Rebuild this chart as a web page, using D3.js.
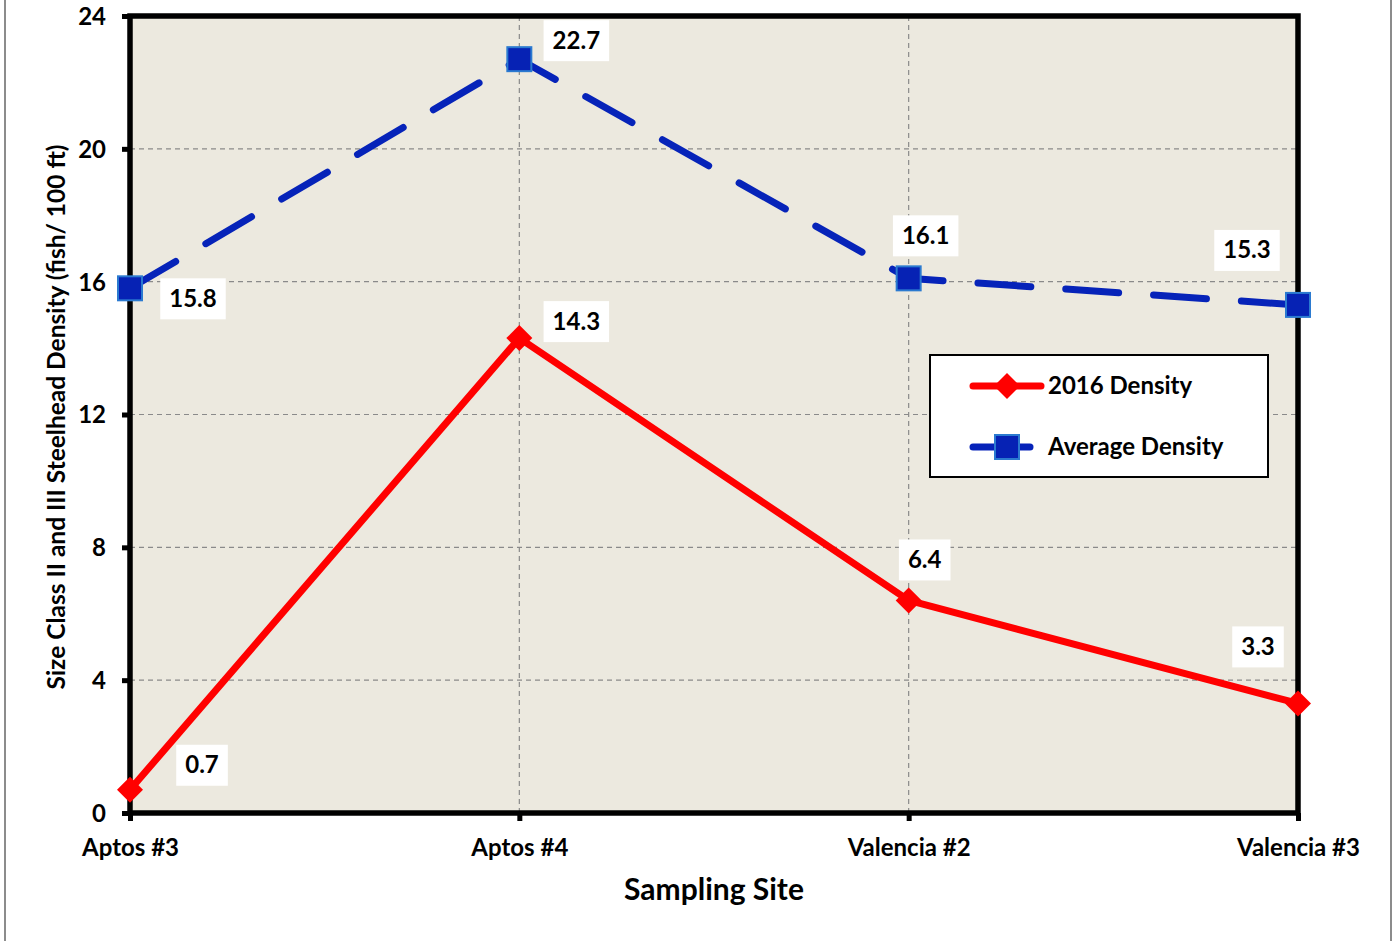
<!DOCTYPE html>
<html>
<head>
<meta charset="utf-8">
<script src="https://cdn.jsdelivr.net/npm/d3@7"></script>
<style>
  html, body { margin: 0; padding: 0; background: #fff; }
  svg text { font-family: Lato, "Open Sans", sans-serif; font-weight: 700; fill: #000; }
</style>
</head>
<body>
<svg id="chart" width="1395" height="941"></svg>
<script>
// Sampling sites and densities (fish / 100 ft)
const sites = ["Aptos #3", "Aptos #4", "Valencia #2", "Valencia #3"];
const density2016 = [0.7, 14.3, 6.4, 3.3];
const densityAvg = [15.8, 22.7, 16.1, 15.3];
const yTicks = [0, 4, 8, 12, 16, 20, 24];
const seriesNames = ["2016 Density", "Average Density"];

// Label offsets (px) of each value box relative to its point
const offs2016 = [[72, -25], [57, -17], [16, -41], [-40, -57]];
const offsAvg = [[63, 10], [57, -19], [17, -43], [-51, -55]];

const svg = d3.select("#chart");
const W = 1395, H = 941;
const plotL = 130, plotR = 1298, plotT = 16, plotB = 813;
const fs = "24px";

// Outer frame lines
svg.append("line").attr("x1", 5).attr("x2", 5).attr("y1", 0).attr("y2", H)
  .attr("stroke", "#8c8c8c").attr("stroke-width", 2);
svg.append("line").attr("x1", 1391).attr("x2", 1391).attr("y1", 0).attr("y2", H)
  .attr("stroke", "#8c8c8c").attr("stroke-width", 2);

const x = d3.scalePoint().domain(sites).range([plotL, plotR]);
const y = d3.scaleLinear().domain([0, 24]).range([plotB, plotT]);

// Plot background
svg.append("rect").attr("x", plotL).attr("y", plotT)
  .attr("width", plotR - plotL).attr("height", plotB - plotT)
  .attr("fill", "#ECE9DF");

// Gridlines
const grid = svg.append("g");
grid.selectAll("line.h").data(yTicks.filter(t => t > 0 && t < 24)).join("line")
  .attr("x1", plotL).attr("x2", plotR)
  .attr("y1", d => y(d)).attr("y2", d => y(d))
  .attr("stroke", "#8a8a8a").attr("stroke-width", 1.2).attr("stroke-dasharray", "5,4");
grid.selectAll("line.v").data(sites.slice(1, -1)).join("line")
  .attr("x1", d => x(d)).attr("x2", d => x(d))
  .attr("y1", plotT).attr("y2", plotB)
  .attr("stroke", "#8a8a8a").attr("stroke-width", 1.2).attr("stroke-dasharray", "5,4");

// Axes
const yAxis = d3.axisLeft(y).tickValues(yTicks).tickSize(8).tickPadding(16);
const gy = svg.append("g").attr("transform", `translate(${plotL},0)`).call(yAxis);
gy.select(".domain").remove();
gy.selectAll(".tick line").attr("stroke", "#000").attr("stroke-width", 5);
gy.selectAll(".tick text").style("font-size", fs).attr("dy", "0.35em");

const xAxis = d3.axisBottom(x).tickSize(8).tickPadding(18);
const gx = svg.append("g").attr("transform", `translate(0,${plotB})`).call(xAxis);
gx.select(".domain").remove();
gx.selectAll(".tick line").attr("stroke", "#000").attr("stroke-width", 5);
gx.selectAll(".tick text").style("font-size", fs);

// Plot frame
svg.append("rect").attr("x", plotL).attr("y", plotT)
  .attr("width", plotR - plotL).attr("height", plotB - plotT)
  .attr("fill", "none").attr("stroke", "#000").attr("stroke-width", 5.5);

// Axis titles
svg.append("text").attr("x", 714).attr("y", 900).attr("text-anchor", "middle")
  .style("font-size", "30px").text("Sampling Site");
svg.append("text").attr("transform", "translate(65,417) rotate(-90)")
  .attr("text-anchor", "middle").style("font-size", "24.5px")
  .text("Size Class II and III Steelhead Density (fish/ 100 ft)");

const line = d3.line().x((d, i) => x(sites[i])).y(d => y(d));

// Average density: dashed blue
svg.append("path").datum(densityAvg).attr("d", line)
  .attr("fill", "none").attr("stroke", "#0623B9").attr("stroke-width", 7)
  .attr("stroke-linecap", "round").attr("stroke-dasharray", "53,35");

// 2016 density: solid red
svg.append("path").datum(density2016).attr("d", line)
  .attr("fill", "none").attr("stroke", "#FF0000").attr("stroke-width", 7)
  .attr("stroke-linejoin", "round");

// Markers
function square(g, cx, cy) {
  g.append("rect").attr("x", cx - 12).attr("y", cy - 12).attr("width", 24).attr("height", 24)
    .attr("fill", "#0622B4").attr("stroke", "#2B7AD0").attr("stroke-width", 2);
}
function diamond(g, cx, cy) {
  const r = 13;
  g.append("path").attr("d", `M${cx},${cy - r}L${cx + r},${cy}L${cx},${cy + r}L${cx - r},${cy}Z`)
    .attr("fill", "#FF0000");
}
const marks = svg.append("g");
densityAvg.forEach((v, i) => square(marks, x(sites[i]), y(v)));
density2016.forEach((v, i) => diamond(marks, x(sites[i]), y(v)));

// Value labels in white boxes
const labels = svg.append("g");
function valueLabel(v, i, off) {
  const cx = x(sites[i]) + off[0], cy = y(v) + off[1];
  const g = labels.append("g");
  const t = g.append("text").attr("x", cx).attr("y", cy).attr("text-anchor", "middle")
    .attr("dy", "0.35em").style("font-size", fs).text(v.toFixed(1));
  const bb = t.node().getBBox();
  g.insert("rect", "text").attr("x", bb.x - 9).attr("y", cy - 20)
    .attr("width", bb.width + 18).attr("height", 41).attr("fill", "#fff");
}
density2016.forEach((v, i) => valueLabel(v, i, offs2016[i]));
densityAvg.forEach((v, i) => valueLabel(v, i, offsAvg[i]));

// Legend
const lg = svg.append("g");
lg.append("rect").attr("x", 930).attr("y", 355).attr("width", 338).attr("height", 122)
  .attr("fill", "#fff").attr("stroke", "#000").attr("stroke-width", 2);
lg.append("line").attr("x1", 973).attr("x2", 1041).attr("y1", 386).attr("y2", 386)
  .attr("stroke", "#FF0000").attr("stroke-width", 7).attr("stroke-linecap", "round");
diamond(lg, 1007, 386);
lg.append("text").attr("x", 1048).attr("y", 386).attr("dy", "0.35em")
  .style("font-size", fs).text(seriesNames[0]);
lg.append("line").attr("x1", 973).attr("x2", 1030).attr("y1", 447).attr("y2", 447)
  .attr("stroke", "#0623B9").attr("stroke-width", 7).attr("stroke-linecap", "round");
square(lg, 1007, 447);
lg.append("text").attr("x", 1048).attr("y", 447).attr("dy", "0.35em")
  .style("font-size", fs).text(seriesNames[1]);
</script>
</body>
</html>
